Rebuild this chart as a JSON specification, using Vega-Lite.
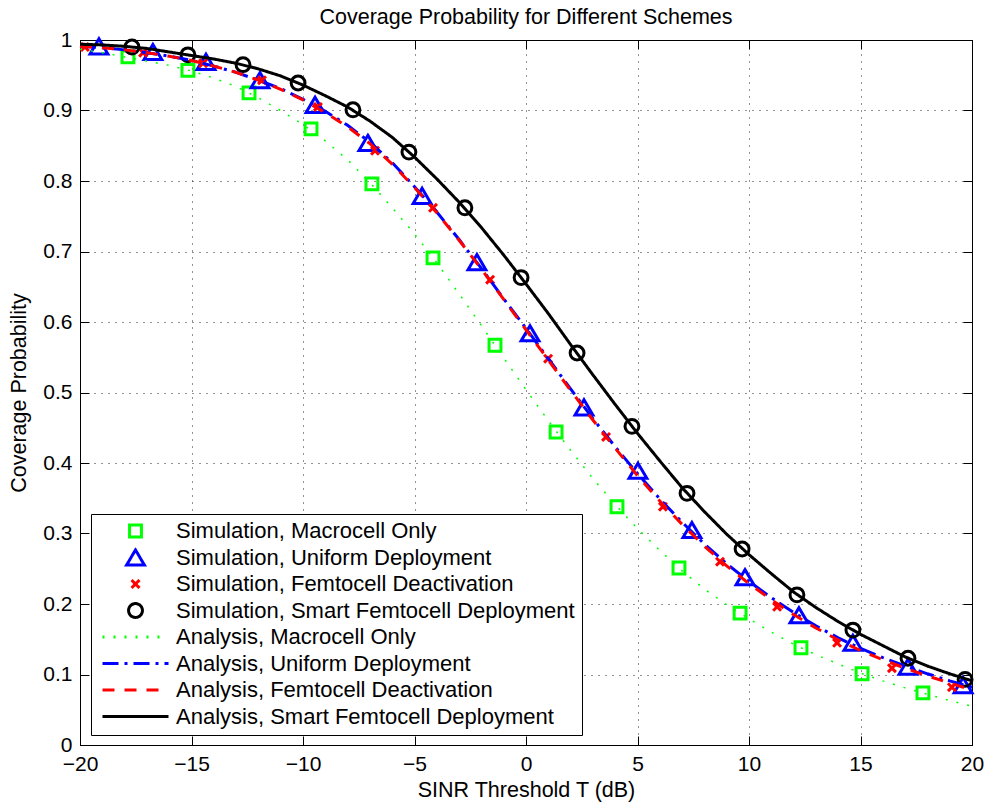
{
  "$schema": "https://vega.github.io/schema/vega-lite/v6.json",
  "autosize": "none",
  "width": 892,
  "height": 705,
  "padding": {"left": 80, "top": 40, "right": 16, "bottom": 61},
  "background": "white",
  "config": {
    "font": "Liberation Sans",
    "view": {"stroke": "#000", "strokeWidth": 1},
    "axis": {"labelFont": "Liberation Sans", "titleFont": "Liberation Sans", "labelColor": "#000", "titleColor": "#000", "domainColor": "#000", "tickColor": "#000", "titleFontWeight": "normal"}
  },
  "title": {"text": "Coverage Probability for Different Schemes", "fontSize": 21.5, "fontWeight": "normal", "font": "Liberation Sans", "color": "#000", "anchor": "middle", "offset": 1},
  "datasets": {
    "sim": [
      {"series": "Simulation, Macrocell Only", "t": -17.85, "p": 0.976},
      {"series": "Simulation, Macrocell Only", "t": -15.16, "p": 0.957},
      {"series": "Simulation, Macrocell Only", "t": -12.42, "p": 0.925},
      {"series": "Simulation, Macrocell Only", "t": -9.64, "p": 0.874},
      {"series": "Simulation, Macrocell Only", "t": -6.91, "p": 0.796},
      {"series": "Simulation, Macrocell Only", "t": -4.17, "p": 0.691},
      {"series": "Simulation, Macrocell Only", "t": -1.39, "p": 0.567},
      {"series": "Simulation, Macrocell Only", "t": 1.35, "p": 0.444},
      {"series": "Simulation, Macrocell Only", "t": 4.08, "p": 0.338},
      {"series": "Simulation, Macrocell Only", "t": 6.86, "p": 0.251},
      {"series": "Simulation, Macrocell Only", "t": 9.6, "p": 0.187},
      {"series": "Simulation, Macrocell Only", "t": 12.33, "p": 0.138},
      {"series": "Simulation, Macrocell Only", "t": 15.07, "p": 0.101},
      {"series": "Simulation, Macrocell Only", "t": 17.8, "p": 0.074},
      {"series": "Simulation, Uniform Deployment", "t": -19.15, "p": 0.991},
      {"series": "Simulation, Uniform Deployment", "t": -16.73, "p": 0.983},
      {"series": "Simulation, Uniform Deployment", "t": -14.35, "p": 0.969},
      {"series": "Simulation, Uniform Deployment", "t": -11.93, "p": 0.943},
      {"series": "Simulation, Uniform Deployment", "t": -9.46, "p": 0.908},
      {"series": "Simulation, Uniform Deployment", "t": -7.09, "p": 0.854},
      {"series": "Simulation, Uniform Deployment", "t": -4.66, "p": 0.779},
      {"series": "Simulation, Uniform Deployment", "t": -2.2, "p": 0.685},
      {"series": "Simulation, Uniform Deployment", "t": 0.18, "p": 0.584},
      {"series": "Simulation, Uniform Deployment", "t": 2.6, "p": 0.479},
      {"series": "Simulation, Uniform Deployment", "t": 5.02, "p": 0.389},
      {"series": "Simulation, Uniform Deployment", "t": 7.44, "p": 0.305},
      {"series": "Simulation, Uniform Deployment", "t": 9.82, "p": 0.238},
      {"series": "Simulation, Uniform Deployment", "t": 12.24, "p": 0.184},
      {"series": "Simulation, Uniform Deployment", "t": 14.66, "p": 0.145},
      {"series": "Simulation, Uniform Deployment", "t": 17.13, "p": 0.111},
      {"series": "Simulation, Uniform Deployment", "t": 19.6, "p": 0.085},
      {"series": "Simulation, Femtocell Deactivation", "t": -19.78, "p": 0.99},
      {"series": "Simulation, Femtocell Deactivation", "t": -17.17, "p": 0.982},
      {"series": "Simulation, Femtocell Deactivation", "t": -14.48, "p": 0.967},
      {"series": "Simulation, Femtocell Deactivation", "t": -11.84, "p": 0.943},
      {"series": "Simulation, Femtocell Deactivation", "t": -9.33, "p": 0.905},
      {"series": "Simulation, Femtocell Deactivation", "t": -6.77, "p": 0.843},
      {"series": "Simulation, Femtocell Deactivation", "t": -4.17, "p": 0.762},
      {"series": "Simulation, Femtocell Deactivation", "t": -1.61, "p": 0.66},
      {"series": "Simulation, Femtocell Deactivation", "t": 0.99, "p": 0.548},
      {"series": "Simulation, Femtocell Deactivation", "t": 3.59, "p": 0.437},
      {"series": "Simulation, Femtocell Deactivation", "t": 6.14, "p": 0.338},
      {"series": "Simulation, Femtocell Deactivation", "t": 8.7, "p": 0.26},
      {"series": "Simulation, Femtocell Deactivation", "t": 11.26, "p": 0.196},
      {"series": "Simulation, Femtocell Deactivation", "t": 13.95, "p": 0.145},
      {"series": "Simulation, Femtocell Deactivation", "t": 16.41, "p": 0.109},
      {"series": "Simulation, Femtocell Deactivation", "t": 19.1, "p": 0.082},
      {"series": "Simulation, Smart Femtocell Deployment", "t": -17.67, "p": 0.99},
      {"series": "Simulation, Smart Femtocell Deployment", "t": -15.16, "p": 0.979},
      {"series": "Simulation, Smart Femtocell Deployment", "t": -12.69, "p": 0.965},
      {"series": "Simulation, Smart Femtocell Deployment", "t": -10.22, "p": 0.939},
      {"series": "Simulation, Smart Femtocell Deployment", "t": -7.76, "p": 0.901},
      {"series": "Simulation, Smart Femtocell Deployment", "t": -5.25, "p": 0.841},
      {"series": "Simulation, Smart Femtocell Deployment", "t": -2.74, "p": 0.762},
      {"series": "Simulation, Smart Femtocell Deployment", "t": -0.22, "p": 0.663},
      {"series": "Simulation, Smart Femtocell Deployment", "t": 2.29, "p": 0.556},
      {"series": "Simulation, Smart Femtocell Deployment", "t": 4.75, "p": 0.452},
      {"series": "Simulation, Smart Femtocell Deployment", "t": 7.22, "p": 0.357},
      {"series": "Simulation, Smart Femtocell Deployment", "t": 9.69, "p": 0.278},
      {"series": "Simulation, Smart Femtocell Deployment", "t": 12.15, "p": 0.213},
      {"series": "Simulation, Smart Femtocell Deployment", "t": 14.66, "p": 0.163},
      {"series": "Simulation, Smart Femtocell Deployment", "t": 17.13, "p": 0.123},
      {"series": "Simulation, Smart Femtocell Deployment", "t": 19.69, "p": 0.093}
    ],
    "ana": [
      {"series": "Analysis, Macrocell Only", "t": -20, "p": 0.987},
      {"series": "Analysis, Macrocell Only", "t": -19, "p": 0.982},
      {"series": "Analysis, Macrocell Only", "t": -18, "p": 0.976},
      {"series": "Analysis, Macrocell Only", "t": -17, "p": 0.970},
      {"series": "Analysis, Macrocell Only", "t": -16, "p": 0.964},
      {"series": "Analysis, Macrocell Only", "t": -15, "p": 0.956},
      {"series": "Analysis, Macrocell Only", "t": -14, "p": 0.946},
      {"series": "Analysis, Macrocell Only", "t": -13, "p": 0.934},
      {"series": "Analysis, Macrocell Only", "t": -12, "p": 0.918},
      {"series": "Analysis, Macrocell Only", "t": -11, "p": 0.900},
      {"series": "Analysis, Macrocell Only", "t": -10, "p": 0.880},
      {"series": "Analysis, Macrocell Only", "t": -9, "p": 0.857},
      {"series": "Analysis, Macrocell Only", "t": -8, "p": 0.830},
      {"series": "Analysis, Macrocell Only", "t": -7, "p": 0.798},
      {"series": "Analysis, Macrocell Only", "t": -6, "p": 0.762},
      {"series": "Analysis, Macrocell Only", "t": -5, "p": 0.725},
      {"series": "Analysis, Macrocell Only", "t": -4, "p": 0.684},
      {"series": "Analysis, Macrocell Only", "t": -3, "p": 0.640},
      {"series": "Analysis, Macrocell Only", "t": -2, "p": 0.595},
      {"series": "Analysis, Macrocell Only", "t": -1, "p": 0.549},
      {"series": "Analysis, Macrocell Only", "t": 0, "p": 0.504},
      {"series": "Analysis, Macrocell Only", "t": 1, "p": 0.460},
      {"series": "Analysis, Macrocell Only", "t": 2, "p": 0.418},
      {"series": "Analysis, Macrocell Only", "t": 3, "p": 0.378},
      {"series": "Analysis, Macrocell Only", "t": 4, "p": 0.341},
      {"series": "Analysis, Macrocell Only", "t": 5, "p": 0.307},
      {"series": "Analysis, Macrocell Only", "t": 6, "p": 0.276},
      {"series": "Analysis, Macrocell Only", "t": 7, "p": 0.247},
      {"series": "Analysis, Macrocell Only", "t": 8, "p": 0.221},
      {"series": "Analysis, Macrocell Only", "t": 9, "p": 0.199},
      {"series": "Analysis, Macrocell Only", "t": 10, "p": 0.179},
      {"series": "Analysis, Macrocell Only", "t": 11, "p": 0.160},
      {"series": "Analysis, Macrocell Only", "t": 12, "p": 0.143},
      {"series": "Analysis, Macrocell Only", "t": 13, "p": 0.128},
      {"series": "Analysis, Macrocell Only", "t": 14, "p": 0.115},
      {"series": "Analysis, Macrocell Only", "t": 15, "p": 0.102},
      {"series": "Analysis, Macrocell Only", "t": 16, "p": 0.091},
      {"series": "Analysis, Macrocell Only", "t": 17, "p": 0.081},
      {"series": "Analysis, Macrocell Only", "t": 18, "p": 0.072},
      {"series": "Analysis, Macrocell Only", "t": 19, "p": 0.063},
      {"series": "Analysis, Macrocell Only", "t": 20, "p": 0.055},
      {"series": "Analysis, Uniform Deployment", "t": -20, "p": 0.991},
      {"series": "Analysis, Uniform Deployment", "t": -19, "p": 0.989},
      {"series": "Analysis, Uniform Deployment", "t": -18, "p": 0.986},
      {"series": "Analysis, Uniform Deployment", "t": -17, "p": 0.982},
      {"series": "Analysis, Uniform Deployment", "t": -16, "p": 0.977},
      {"series": "Analysis, Uniform Deployment", "t": -15, "p": 0.971},
      {"series": "Analysis, Uniform Deployment", "t": -14, "p": 0.963},
      {"series": "Analysis, Uniform Deployment", "t": -13, "p": 0.954},
      {"series": "Analysis, Uniform Deployment", "t": -12, "p": 0.943},
      {"series": "Analysis, Uniform Deployment", "t": -11, "p": 0.931},
      {"series": "Analysis, Uniform Deployment", "t": -10, "p": 0.916},
      {"series": "Analysis, Uniform Deployment", "t": -9, "p": 0.899},
      {"series": "Analysis, Uniform Deployment", "t": -8, "p": 0.879},
      {"series": "Analysis, Uniform Deployment", "t": -7, "p": 0.855},
      {"series": "Analysis, Uniform Deployment", "t": -6, "p": 0.826},
      {"series": "Analysis, Uniform Deployment", "t": -5, "p": 0.792},
      {"series": "Analysis, Uniform Deployment", "t": -4, "p": 0.756},
      {"series": "Analysis, Uniform Deployment", "t": -3, "p": 0.717},
      {"series": "Analysis, Uniform Deployment", "t": -2, "p": 0.676},
      {"series": "Analysis, Uniform Deployment", "t": -1, "p": 0.633},
      {"series": "Analysis, Uniform Deployment", "t": 0, "p": 0.591},
      {"series": "Analysis, Uniform Deployment", "t": 1, "p": 0.548},
      {"series": "Analysis, Uniform Deployment", "t": 2, "p": 0.505},
      {"series": "Analysis, Uniform Deployment", "t": 3, "p": 0.463},
      {"series": "Analysis, Uniform Deployment", "t": 4, "p": 0.423},
      {"series": "Analysis, Uniform Deployment", "t": 5, "p": 0.385},
      {"series": "Analysis, Uniform Deployment", "t": 6, "p": 0.349},
      {"series": "Analysis, Uniform Deployment", "t": 7, "p": 0.316},
      {"series": "Analysis, Uniform Deployment", "t": 8, "p": 0.285},
      {"series": "Analysis, Uniform Deployment", "t": 9, "p": 0.257},
      {"series": "Analysis, Uniform Deployment", "t": 10, "p": 0.232},
      {"series": "Analysis, Uniform Deployment", "t": 11, "p": 0.209},
      {"series": "Analysis, Uniform Deployment", "t": 12, "p": 0.188},
      {"series": "Analysis, Uniform Deployment", "t": 13, "p": 0.169},
      {"series": "Analysis, Uniform Deployment", "t": 14, "p": 0.152},
      {"series": "Analysis, Uniform Deployment", "t": 15, "p": 0.137},
      {"series": "Analysis, Uniform Deployment", "t": 16, "p": 0.124},
      {"series": "Analysis, Uniform Deployment", "t": 17, "p": 0.112},
      {"series": "Analysis, Uniform Deployment", "t": 18, "p": 0.101},
      {"series": "Analysis, Uniform Deployment", "t": 19, "p": 0.091},
      {"series": "Analysis, Uniform Deployment", "t": 20, "p": 0.082},
      {"series": "Analysis, Femtocell Deactivation", "t": -20, "p": 0.991},
      {"series": "Analysis, Femtocell Deactivation", "t": -19, "p": 0.989},
      {"series": "Analysis, Femtocell Deactivation", "t": -18, "p": 0.986},
      {"series": "Analysis, Femtocell Deactivation", "t": -17, "p": 0.982},
      {"series": "Analysis, Femtocell Deactivation", "t": -16, "p": 0.977},
      {"series": "Analysis, Femtocell Deactivation", "t": -15, "p": 0.971},
      {"series": "Analysis, Femtocell Deactivation", "t": -14, "p": 0.963},
      {"series": "Analysis, Femtocell Deactivation", "t": -13, "p": 0.954},
      {"series": "Analysis, Femtocell Deactivation", "t": -12, "p": 0.943},
      {"series": "Analysis, Femtocell Deactivation", "t": -11, "p": 0.930},
      {"series": "Analysis, Femtocell Deactivation", "t": -10, "p": 0.915},
      {"series": "Analysis, Femtocell Deactivation", "t": -9, "p": 0.897},
      {"series": "Analysis, Femtocell Deactivation", "t": -8, "p": 0.877},
      {"series": "Analysis, Femtocell Deactivation", "t": -7, "p": 0.853},
      {"series": "Analysis, Femtocell Deactivation", "t": -6, "p": 0.824},
      {"series": "Analysis, Femtocell Deactivation", "t": -5, "p": 0.791},
      {"series": "Analysis, Femtocell Deactivation", "t": -4, "p": 0.755},
      {"series": "Analysis, Femtocell Deactivation", "t": -3, "p": 0.716},
      {"series": "Analysis, Femtocell Deactivation", "t": -2, "p": 0.675},
      {"series": "Analysis, Femtocell Deactivation", "t": -1, "p": 0.632},
      {"series": "Analysis, Femtocell Deactivation", "t": 0, "p": 0.589},
      {"series": "Analysis, Femtocell Deactivation", "t": 1, "p": 0.546},
      {"series": "Analysis, Femtocell Deactivation", "t": 2, "p": 0.503},
      {"series": "Analysis, Femtocell Deactivation", "t": 3, "p": 0.461},
      {"series": "Analysis, Femtocell Deactivation", "t": 4, "p": 0.421},
      {"series": "Analysis, Femtocell Deactivation", "t": 5, "p": 0.382},
      {"series": "Analysis, Femtocell Deactivation", "t": 6, "p": 0.346},
      {"series": "Analysis, Femtocell Deactivation", "t": 7, "p": 0.313},
      {"series": "Analysis, Femtocell Deactivation", "t": 8, "p": 0.282},
      {"series": "Analysis, Femtocell Deactivation", "t": 9, "p": 0.254},
      {"series": "Analysis, Femtocell Deactivation", "t": 10, "p": 0.229},
      {"series": "Analysis, Femtocell Deactivation", "t": 11, "p": 0.206},
      {"series": "Analysis, Femtocell Deactivation", "t": 12, "p": 0.185},
      {"series": "Analysis, Femtocell Deactivation", "t": 13, "p": 0.166},
      {"series": "Analysis, Femtocell Deactivation", "t": 14, "p": 0.149},
      {"series": "Analysis, Femtocell Deactivation", "t": 15, "p": 0.134},
      {"series": "Analysis, Femtocell Deactivation", "t": 16, "p": 0.121},
      {"series": "Analysis, Femtocell Deactivation", "t": 17, "p": 0.109},
      {"series": "Analysis, Femtocell Deactivation", "t": 18, "p": 0.098},
      {"series": "Analysis, Femtocell Deactivation", "t": 19, "p": 0.088},
      {"series": "Analysis, Femtocell Deactivation", "t": 20, "p": 0.078},
      {"series": "Analysis, Smart Femtocell Deployment", "t": -20, "p": 0.994},
      {"series": "Analysis, Smart Femtocell Deployment", "t": -19, "p": 0.993},
      {"series": "Analysis, Smart Femtocell Deployment", "t": -18, "p": 0.991},
      {"series": "Analysis, Smart Femtocell Deployment", "t": -17, "p": 0.988},
      {"series": "Analysis, Smart Femtocell Deployment", "t": -16, "p": 0.983},
      {"series": "Analysis, Smart Femtocell Deployment", "t": -15, "p": 0.978},
      {"series": "Analysis, Smart Femtocell Deployment", "t": -14, "p": 0.973},
      {"series": "Analysis, Smart Femtocell Deployment", "t": -13, "p": 0.967},
      {"series": "Analysis, Smart Femtocell Deployment", "t": -12, "p": 0.959},
      {"series": "Analysis, Smart Femtocell Deployment", "t": -11, "p": 0.949},
      {"series": "Analysis, Smart Femtocell Deployment", "t": -10, "p": 0.936},
      {"series": "Analysis, Smart Femtocell Deployment", "t": -9, "p": 0.921},
      {"series": "Analysis, Smart Femtocell Deployment", "t": -8, "p": 0.905},
      {"series": "Analysis, Smart Femtocell Deployment", "t": -7, "p": 0.885},
      {"series": "Analysis, Smart Femtocell Deployment", "t": -6, "p": 0.862},
      {"series": "Analysis, Smart Femtocell Deployment", "t": -5, "p": 0.834},
      {"series": "Analysis, Smart Femtocell Deployment", "t": -4, "p": 0.803},
      {"series": "Analysis, Smart Femtocell Deployment", "t": -3, "p": 0.770},
      {"series": "Analysis, Smart Femtocell Deployment", "t": -2, "p": 0.734},
      {"series": "Analysis, Smart Femtocell Deployment", "t": -1, "p": 0.695},
      {"series": "Analysis, Smart Femtocell Deployment", "t": 0, "p": 0.654},
      {"series": "Analysis, Smart Femtocell Deployment", "t": 1, "p": 0.612},
      {"series": "Analysis, Smart Femtocell Deployment", "t": 2, "p": 0.568},
      {"series": "Analysis, Smart Femtocell Deployment", "t": 3, "p": 0.525},
      {"series": "Analysis, Smart Femtocell Deployment", "t": 4, "p": 0.483},
      {"series": "Analysis, Smart Femtocell Deployment", "t": 5, "p": 0.442},
      {"series": "Analysis, Smart Femtocell Deployment", "t": 6, "p": 0.403},
      {"series": "Analysis, Smart Femtocell Deployment", "t": 7, "p": 0.365},
      {"series": "Analysis, Smart Femtocell Deployment", "t": 8, "p": 0.331},
      {"series": "Analysis, Smart Femtocell Deployment", "t": 9, "p": 0.299},
      {"series": "Analysis, Smart Femtocell Deployment", "t": 10, "p": 0.270},
      {"series": "Analysis, Smart Femtocell Deployment", "t": 11, "p": 0.243},
      {"series": "Analysis, Smart Femtocell Deployment", "t": 12, "p": 0.217},
      {"series": "Analysis, Smart Femtocell Deployment", "t": 13, "p": 0.195},
      {"series": "Analysis, Smart Femtocell Deployment", "t": 14, "p": 0.175},
      {"series": "Analysis, Smart Femtocell Deployment", "t": 15, "p": 0.157},
      {"series": "Analysis, Smart Femtocell Deployment", "t": 16, "p": 0.141},
      {"series": "Analysis, Smart Femtocell Deployment", "t": 17, "p": 0.125},
      {"series": "Analysis, Smart Femtocell Deployment", "t": 18, "p": 0.112},
      {"series": "Analysis, Smart Femtocell Deployment", "t": 19, "p": 0.101},
      {"series": "Analysis, Smart Femtocell Deployment", "t": 20, "p": 0.091}
    ]
  },
  "layer": [
    {
      "data": {"name": "sim"},
      "mark": {"type": "point", "filled": false, "size": 4356, "strokeWidth": 3, "opacity": 1},
      "encoding": {
        "x": {"field": "t", "type": "quantitative", "scale": {"domain": [-20, 20], "nice": false, "zero": false},
          "axis": {"orient": "top", "values": [-20, -15, -10, -5, 0, 5, 10, 15, 20], "labels": false, "grid": false, "title": null, "tickSize": -9, "domain": true, "domainWidth": 1}},
        "y": {"field": "p", "type": "quantitative", "scale": {"domain": [0, 1], "nice": false, "zero": false},
          "axis": {"orient": "right", "values": [0, 0.1, 0.2, 0.3, 0.4, 0.5, 0.6, 0.7, 0.8, 0.9, 1], "labels": false, "grid": false, "title": null, "tickSize": -9, "domain": true}},
        "color": {"field": "series", "type": "nominal",
          "scale": {"domain": ["Simulation, Macrocell Only", "Simulation, Uniform Deployment", "Simulation, Femtocell Deactivation", "Simulation, Smart Femtocell Deployment", "Analysis, Macrocell Only", "Analysis, Uniform Deployment", "Analysis, Femtocell Deactivation", "Analysis, Smart Femtocell Deployment"],
            "range": ["#00ff00", "#0000ff", "#ff0000", "#000000", "#00ff00", "#0000ff", "#ff0000", "#000000"]},
          "legend": {"title": null, "orient": "none", "legendX": 11, "legendY": 474, "symbolSize": 4356, "symbolStrokeWidth": 3, "clipHeight": 20, "rowPadding": 4.5, "padding": 7, "labelFontSize": 22, "labelFont": "Liberation Sans", "labelColor": "#000", "labelOffset": 6, "symbolOffset": 3, "strokeColor": "#000", "fillColor": "#fff", "labelLimit": 500,
            "encode": {"symbols": {"update": {"strokeWidth": {"signal": "datum.value === 'Analysis, Macrocell Only' ? 1.5 : 3"}}}}}},
        "shape": {"field": "series", "type": "nominal",
          "scale": {"domain": ["Simulation, Macrocell Only", "Simulation, Uniform Deployment", "Simulation, Femtocell Deactivation", "Simulation, Smart Femtocell Deployment", "Analysis, Macrocell Only", "Analysis, Uniform Deployment", "Analysis, Femtocell Deactivation", "Analysis, Smart Femtocell Deployment"],
            "range": ["M-0.18,-0.18H0.18V0.18H-0.18Z", "M0,-0.23L0.27,0.23L-0.27,0.23Z", "M-0.12,-0.12L0.12,0.12M-0.12,0.12L0.12,-0.12", "M0.21,0A0.21,0.21,0,1,1,-0.21,0A0.21,0.21,0,1,1,0.21,0Z", "M-1,0H1", "M-1,0H1", "M-1,0H1", "M-1,0H1"]}}
      }
    },
    {
      "data": {"name": "ana"},
      "transform": [{"filter": "datum.series === 'Analysis, Macrocell Only'"}],
      "mark": {"type": "line", "strokeWidth": 1.5},
      "encoding": {
        "x": {"field": "t", "type": "quantitative",
          "axis": {"orient": "bottom", "values": [-20, -15, -10, -5, 0, 5, 10, 15, 20], "grid": true, "gridDash": [1, 6], "gridColor": "#000", "gridOpacity": 0.85, "tickSize": -9, "labelPadding": 17, "labelFontSize": 21, "labelFlush": false, "labelOverlap": false, "title": "SINR Threshold T (dB)", "titleFontSize": 21.5, "titlePadding": 5}},
        "y": {"field": "p", "type": "quantitative",
          "axis": {"orient": "left", "values": [0, 0.1, 0.2, 0.3, 0.4, 0.5, 0.6, 0.7, 0.8, 0.9, 1], "format": "~f", "grid": true, "gridDash": [1, 6], "gridColor": "#000", "gridOpacity": 0.85, "tickSize": -9, "labelPadding": 17, "labelFontSize": 21, "labelFlush": false, "labelOverlap": false, "title": "Coverage Probability", "titleFontSize": 21.5, "titlePadding": 12}},
        "color": {"field": "series", "type": "nominal"},
        "strokeDash": {"field": "series", "type": "nominal",
          "scale": {"domain": ["Simulation, Macrocell Only", "Simulation, Uniform Deployment", "Simulation, Femtocell Deactivation", "Simulation, Smart Femtocell Deployment", "Analysis, Macrocell Only", "Analysis, Uniform Deployment", "Analysis, Femtocell Deactivation", "Analysis, Smart Femtocell Deployment"],
            "range": [[1, 0], [1, 0], [1, 0], [1, 0], [2, 9], [16, 6, 3, 6], [12, 10], [1, 0]]}}
      }
    },
    {
      "data": {"name": "ana"},
      "transform": [{"filter": "datum.series !== 'Analysis, Macrocell Only'"}],
      "mark": {"type": "line", "strokeWidth": 3},
      "encoding": {
        "x": {"field": "t", "type": "quantitative", "axis": null},
        "y": {"field": "p", "type": "quantitative", "axis": null},
        "color": {"field": "series", "type": "nominal"},
        "strokeDash": {"field": "series", "type": "nominal"}
      }
    }
  ],
  "resolve": {"axis": {"x": "independent", "y": "independent"}}
}
